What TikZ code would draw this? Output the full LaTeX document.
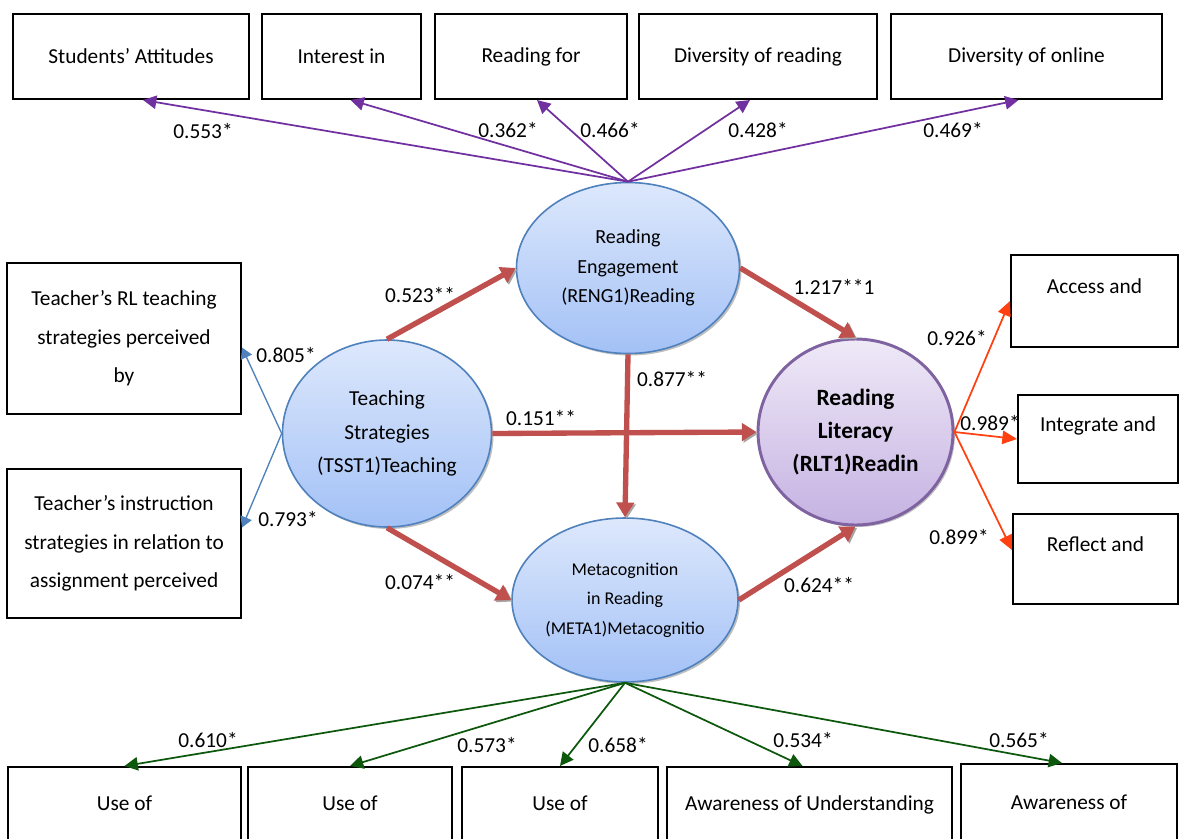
\documentclass[tikz,border=0pt]{standalone}
\usepackage{fontspec}
\setmainfont{Carlito}
\usetikzlibrary{shapes.geometric,arrows.meta,shadows,calc}

\definecolor{pathred}{HTML}{C0504D}
\definecolor{loadpurple}{HTML}{7030A0}
\definecolor{loadgreen}{RGB}{14,88,14}
\definecolor{loadorange}{RGB}{255,64,16}
\definecolor{loadblue}{HTML}{4F81BD}
\definecolor{lattop}{HTML}{DDE8FC}
\definecolor{latbot}{HTML}{A3C1F6}
\definecolor{rltop}{HTML}{EFE9F7}
\definecolor{rlbot}{HTML}{C5B2E2}
\definecolor{rlborder}{HTML}{7F63A1}

\begin{document}
\begin{tikzpicture}[x=0.75pt,y=0.75pt,yscale=-1,xscale=1,
    obs/.style={draw=black,line width=1.5pt,rectangle,inner sep=0pt,align=center,font=\fontsize{16}{29}\selectfont},
    obscut/.style={obs,font=\fontsize{16}{22.5}\selectfont},
    lat/.style={ellipse,draw=loadblue,line width=1.2pt,top color=lattop,bottom color=latbot,inner sep=0pt,align=center,
        drop shadow={shadow xshift=1.5pt,shadow yshift=-1.5pt,fill=black!50}},
    coef/.style={font=\fontsize{16}{19}\selectfont,inner sep=1pt},
    rpath/.style={draw=pathred,line width=4pt,-{Triangle[length=11pt,width=13pt]},
        preaction={draw=black!35,transform canvas={xshift=1.2pt,yshift=-1.2pt}}},
    lpurple/.style={draw=loadpurple,line width=1.3pt,-{Triangle[length=10pt,width=10pt]}},
    lgreen/.style={draw=loadgreen,line width=1.3pt,-{Triangle[length=10pt,width=10pt]}},
    lorange/.style={draw=loadorange,line width=1.3pt,-{Triangle[length=11pt,width=10pt]}},
    lblue/.style={draw=loadblue,line width=1pt,-{Triangle[length=8pt,width=9pt]}}
]
    %set diagram size
    \fill[white,use as bounding box] (0,0) rectangle (1179,839);

    %Shape: Rectangles (top)
    \node[obs,minimum width=177pt,minimum height=63.75pt] (tsa) at (131,56.5) {Students’ Attitudes};
    \node[obs,minimum width=119.25pt,minimum height=63.75pt] (tii) at (341.5,56.5) {Interest in};
    \node[obs,minimum width=144pt,minimum height=63.75pt] (trf) at (531,56.5) {Reading for};
    \node[obs,minimum width=178.5pt,minimum height=63.75pt] (tdr) at (758,56.5) {Diversity of reading};
    \node[obs,minimum width=203.25pt,minimum height=63.75pt] (tdo) at (1026.5,56.5) {Diversity of online};

    %Shape: Rectangles (left)
    \node[obs,minimum width=175.5pt,minimum height=113.25pt] (ltr) at (124,338.5) {Teacher's RL teaching\\strategies perceived\\by};
    \node[obs,minimum width=175.5pt,minimum height=111.75pt] (lti) at (124,543.5) {Teacher's instruction\\strategies in relation to\\assignment perceived};

    %Shape: Rectangles (right)
    \node[obscut,minimum width=125.25pt,minimum height=69pt] (rac) at (1094.5,301) {Access and\\\mbox{}};
    \node[obscut,minimum width=120pt,minimum height=66pt] (rig) at (1098,439) {Integrate and\\\mbox{}};
    \node[obscut,minimum width=123.75pt,minimum height=67.5pt] (rrf) at (1095.5,559) {Reflect and\\\mbox{}};

    %Shape: Rectangles (bottom)
    \node[obscut,minimum width=174.75pt,minimum height=77.25pt] (bu1) at (124.5,818.5) {Use of\\\mbox{}};
    \node[obscut,minimum width=153pt,minimum height=77.25pt] (bu2) at (350,818.5) {Use of\\\mbox{}};
    \node[obscut,minimum width=147pt,minimum height=77.25pt] (bu3) at (560,818.5) {Use of\\\mbox{}};
    \node[obscut,minimum width=213.75pt,minimum height=77.25pt] (baw) at (809.5,818.5) {Awareness of Understanding\\\mbox{}};
    \node[obscut,minimum width=162pt,minimum height=79.5pt] (bas) at (1069,817) {Awareness of\\\mbox{}};

    %Shape: Ellipses
    \node[lat,minimum width=167.25pt,minimum height=128.25pt,font=\fontsize{15}{22}\selectfont] (reng) at (628,268) {Reading\\Engagement\\(RENG1)Reading};
    \node[lat,minimum width=156.75pt,minimum height=140.25pt,font=\fontsize{16}{25}\selectfont] (tsst) at (387,433.5) {Teaching\\Strategies\\(TSST1)Teaching};
    \node[lat,minimum width=169.5pt,minimum height=123pt,font=\fontsize{13.5}{22}\selectfont] (meta) at (625,600) {Metacognition\\in Reading\\(META1)Metacognitio};
    \node[lat,draw=rlborder,line width=2.2pt,top color=rltop,bottom color=rlbot,minimum width=146.25pt,minimum height=139.5pt,font=\fontsize{17.5}{24.75}\selectfont\bfseries] (rlt) at (855.5,432) {Reading\\Literacy\\(RLT1)Readin};

    %Straight Lines: structural paths
    \draw[rpath] (tsst.north) -- (reng.west);
    \draw[rpath] (tsst.south) -- (meta.west);
    \draw[rpath] (tsst.east) -- (rlt.west);
    \draw[rpath] (reng.south) -- (meta.north);
    \draw[rpath] (reng.east) -- (rlt.north);
    \draw[rpath] (meta.east) -- (rlt.south);

    %Straight Lines: loadings
    \draw[lpurple] (reng.north) -- ($(tsa.south)+(12,0)$);
    \draw[lpurple] (reng.north) -- ($(tii.south)+(9,0)$);
    \draw[lpurple] (reng.north) -- ($(trf.south)+(6,0)$);
    \draw[lpurple] (reng.north) -- ($(tdr.south)+(-8,0)$);
    \draw[lpurple] (reng.north) -- ($(tdo.south)+(-8,0)$);
    \draw[lblue] (tsst.west) -- ($(ltr.east)+(0,9)$);
    \draw[lblue] (tsst.west) -- ($(lti.east)+(0,-16)$);
    \draw[lorange] (rlt.east) -- (rac.west);
    \draw[lorange] (rlt.east) -- (rig.west);
    \draw[lorange] (rlt.east) -- ($(rrf.west)+(0,-9)$);
    \draw[lgreen] (meta.south) -- (bu1.north);
    \draw[lgreen] (meta.south) -- (bu2.north);
    \draw[lgreen] (meta.south) -- (bu3.north);
    \draw[lgreen] (meta.south) -- ($(baw.north)+(-7,0)$);
    \draw[lgreen] (meta.south) -- ($(bas.north)+(-7,0)$);

    %Text: coefficients
    \node[coef] (c553) at (203,131) {0.553*};
    \node[coef] (c362) at (508,130) {0.362*};
    \node[coef] (c466) at (610,130) {0.466*};
    \node[coef] (c428) at (758,130) {0.428*};
    \node[coef] (c469) at (953,130) {0.469*};
    \node[coef] (c805) at (286,355) {0.805*};
    \node[coef] (c793) at (288,519) {0.793*};
    \node[coef] (c523) at (420,295) {0.523**};
    \node[coef] (c074) at (420,582) {0.074**};
    \node[coef] (c151) at (541,418) {0.151**};
    \node[coef] (c877) at (672,379) {0.877**};
    \node[coef] (c1217) at (834,287) {1.217**1};
    \node[coef] (c624) at (819,585) {0.624**};
    \node[coef] (c926) at (957,338) {0.926*};
    \node[coef] (c989) at (990,423) {0.989*};
    \node[coef] (c899) at (959,537) {0.899*};
    \node[coef] (c610) at (208,740) {0.610*};
    \node[coef] (c573) at (487,745) {0.573*};
    \node[coef] (c658) at (618,745) {0.658*};
    \node[coef] (c534) at (803,740) {0.534*};
    \node[coef] (c565) at (1019,740) {0.565*};
\end{tikzpicture}
\end{document}
